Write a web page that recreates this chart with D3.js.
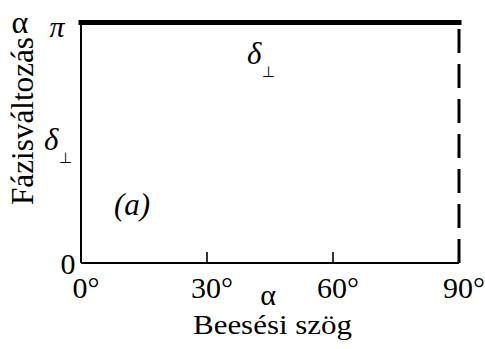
<!DOCTYPE html>
<html>
<head>
<meta charset="utf-8">
<script src="https://cdn.jsdelivr.net/npm/d3@7"></script>
<style>
  html, body { margin: 0; padding: 0; background: #fff; }
  svg { display: block; }
  text { font-family: "Liberation Serif", "Times New Roman", serif; fill: #000; }
</style>
</head>
<body>
<svg id="chart" width="485" height="349"></svg>
<script>
// Phase change δ⊥ of the perpendicular component versus angle of incidence
const incidenceAngles = [0, 90];            // degrees
const phaseShift = [Math.PI, Math.PI];      // δ⊥ stays at π
const jumpAngles = [90, 90];                // grazing incidence jump
const jumpPhase = [0, Math.PI];
const xTickValues = [0, 30, 60, 90];
const xTickLabels = ["0°", "30°", "60°", "90°"];
const innerTicks = [30, 60];
const yTickValues = [0, Math.PI];
const yTickLabels = ["0", "π"];

const svg = d3.select("#chart");

const x = d3.scaleLinear().domain([0, 90]).range([81, 459]);
const y = d3.scaleLinear().domain([0, Math.PI]).range([263, 22.5]);

// axes frame: left and bottom
svg.append("line")
  .attr("x1", x(0)).attr("x2", x(0))
  .attr("y1", y(0)).attr("y2", y(Math.PI))
  .attr("stroke", "#000").attr("stroke-width", 2);
svg.append("line")
  .attr("x1", x(0)).attr("x2", x(90))
  .attr("y1", y(0)).attr("y2", y(0))
  .attr("stroke", "#000").attr("stroke-width", 2);

// inward tick marks on the angle axis
svg.selectAll("line.tick").data(innerTicks).enter().append("line")
  .attr("class", "tick")
  .attr("x1", d => x(d)).attr("x2", d => x(d))
  .attr("y1", y(0)).attr("y2", y(0) - 11)
  .attr("stroke", "#000").attr("stroke-width", 1.6);

// δ⊥ = π across all angles
const line = d3.line().x(d => x(d[0])).y(d => y(d[1]));
svg.append("path")
  .datum(d3.zip(incidenceAngles, phaseShift))
  .attr("d", line)
  .attr("fill", "none").attr("stroke", "#000").attr("stroke-width", 5)
  .attr("stroke-linecap", "square");

// dashed jump at 90°
svg.append("path")
  .datum(d3.zip(jumpAngles, jumpPhase))
  .attr("d", line)
  .attr("fill", "none").attr("stroke", "#000").attr("stroke-width", 3)
  .attr("stroke-dasharray", "24,11");

// angle tick labels
svg.selectAll("text.xl").data(xTickValues).enter().append("text")
  .attr("class", "xl")
  .attr("x", d => x(d) + 5)
  .attr("y", 298)
  .attr("text-anchor", "middle")
  .attr("font-size", 30)
  .text((d, i) => xTickLabels[i]);

// phase tick labels
svg.append("text")
  .attr("x", 68).attr("y", y(yTickValues[0]) + 11)
  .attr("text-anchor", "middle").attr("font-size", 30)
  .text(yTickLabels[0]);
svg.append("text")
  .attr("x", 57).attr("y", y(yTickValues[1]) + 14)
  .attr("text-anchor", "middle").attr("font-size", 30)
  .attr("font-style", "italic")
  .text(yTickLabels[1]);

// δ⊥ markers
function deltaPerp(cx, baseline) {
  svg.append("text")
    .attr("x", cx).attr("y", baseline)
    .attr("font-size", 31).attr("font-style", "italic")
    .text("δ");
  svg.append("text")
    .attr("x", cx + 15).attr("y", baseline + 13)
    .attr("font-size", 15)
    .text("⊥");
}
deltaPerp(44, 150);
deltaPerp(247, 64);

// panel tag
svg.append("text")
  .attr("x", 132).attr("y", 215)
  .attr("text-anchor", "middle").attr("font-size", 31)
  .attr("font-style", "italic")
  .text("(a)");

// axis titles
svg.append("text")
  .attr("x", 268).attr("y", 305)
  .attr("text-anchor", "middle").attr("font-size", 30)
  .text("α");
svg.append("text")
  .attr("x", 193).attr("y", 334)
  .attr("font-size", 28)
  .attr("textLength", 159).attr("lengthAdjust", "spacingAndGlyphs")
  .text("Beesési szög");

svg.append("text")
  .attr("transform", "translate(33,205) rotate(-90)")
  .attr("font-size", 31)
  .attr("textLength", 168).attr("lengthAdjust", "spacingAndGlyphs")
  .text("Fázisváltozás");
svg.append("text")
  .attr("x", 20).attr("y", 33)
  .attr("text-anchor", "middle")
  .attr("font-size", 32)
  .text("α");
</script>
</body>
</html>
